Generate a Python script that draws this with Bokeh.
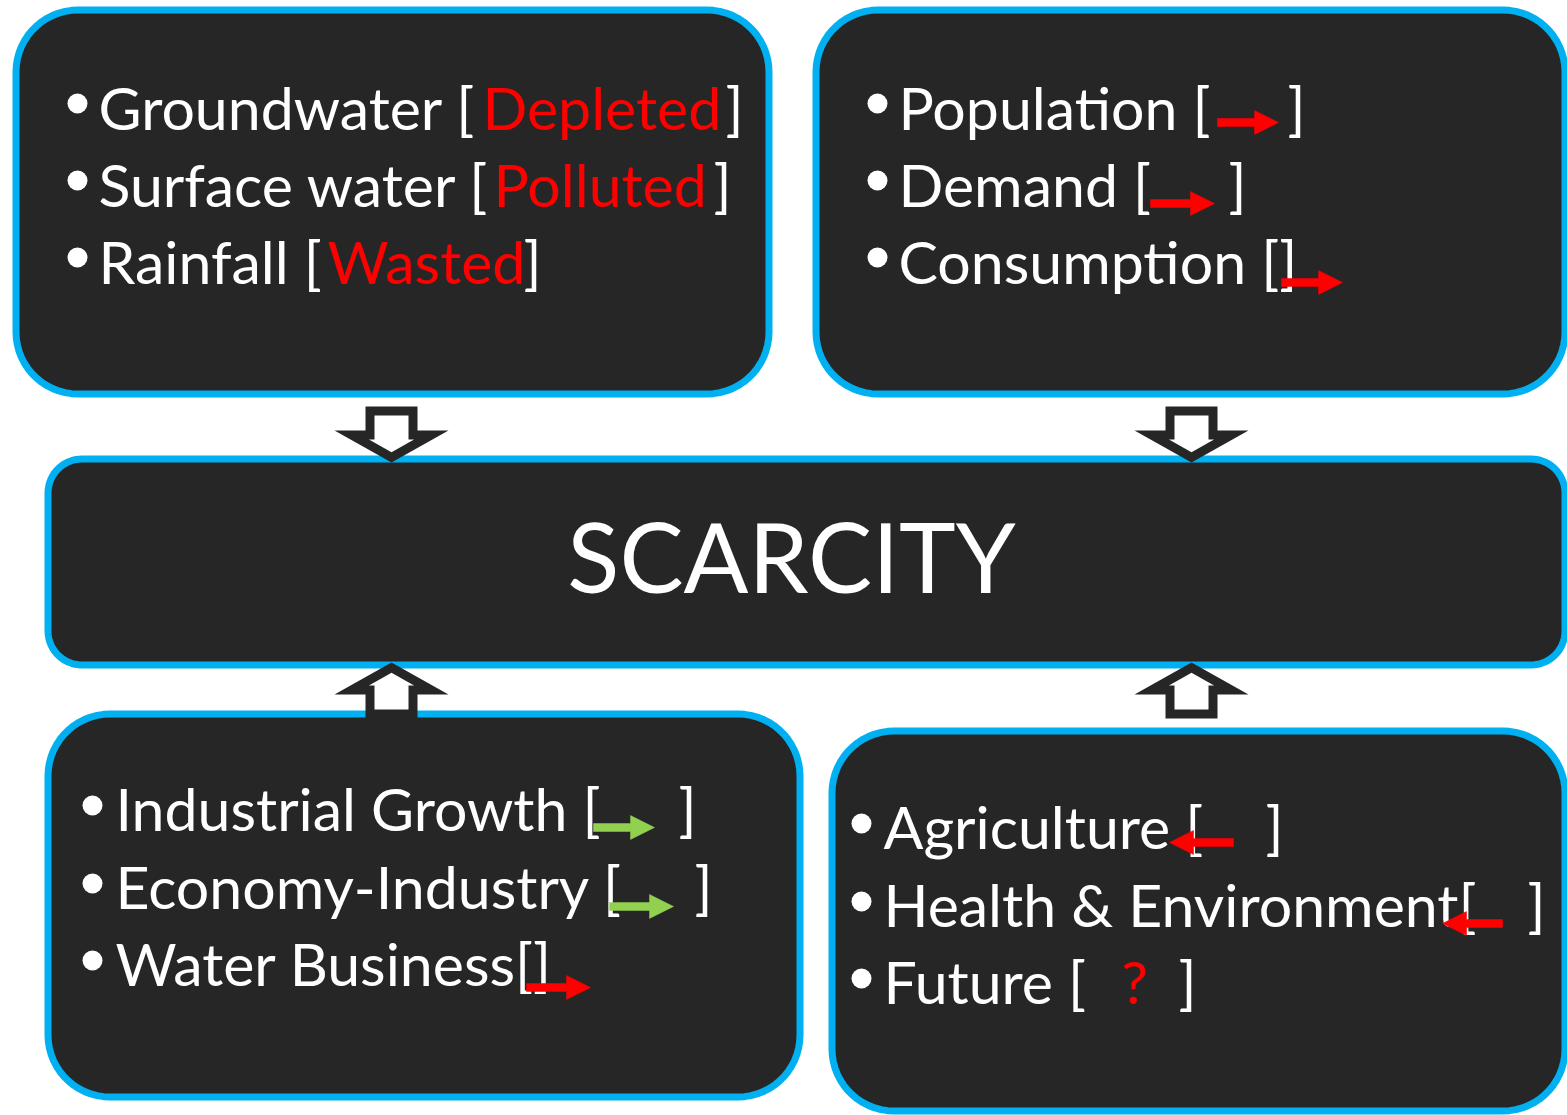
import numpy as np
from bokeh.plotting import figure
from bokeh.models import Range1d
from bokeh.embed import file_html
from bokeh.resources import INLINE
from bokeh.core.properties import value

# ---------------- content ----------------
center_label = "SCARCITY"

supply_items = ["Groundwater [", "Surface water [", "Rainfall ["]
supply_status = ["Depleted", "Polluted", "Wasted"]

demand_items = ["Population [", "Demand [", "Consumption []"]
demand_trend = ["up", "up", "up"]

industry_items = ["Industrial Growth [", "Economy-Industry [", "Water Business[]"]
industry_trend = ["up-good", "up-good", "up"]

impact_items = ["Agriculture [", "Health & Environment[", "Future ["]
impact_trend = ["down", "down", "unknown"]

# ---------------- styles ----------------
DARK = "#262626"
BLUE = "#00B0F0"
RED = "#FF0000"
GREEN = "#92D050"
WHITE = "#FFFFFF"
FONT = "Lato"
ITEM_PX = 59
CENTER_PX = 96
BASE_FIX = 0.33   # shift so that the alphabetic baseline lands where wanted

W, H = 1567, 1115
p = figure(width=W, height=H, output_backend="svg", toolbar_location=None,
           x_range=Range1d(0, W), y_range=Range1d(H, 0),
           x_axis_location=None, y_axis_location=None, min_border=0,
           background_fill_color=WHITE, border_fill_color=WHITE,
           outline_line_color=None)
p.grid.visible = False


def rounded_box(x0, y0, x1, y1, r):
    xs, ys = [], []
    corners = [(x1 - r, y0 + r, -90, 0), (x1 - r, y1 - r, 0, 90),
               (x0 + r, y1 - r, 90, 180), (x0 + r, y0 + r, 180, 270)]
    for cx, cy, a0, a1 in corners:
        t = np.radians(np.linspace(a0, a1, 16))
        xs.extend(cx + r * np.cos(t))
        ys.extend(cy + r * np.sin(t))
    return xs, ys


def box(x0, y0, x1, y1, r):
    bw = 7
    xs, ys = rounded_box(x0 + bw / 2, y0 + bw / 2, x1 - bw / 2, y1 - bw / 2, r)
    p.patch(xs, ys, fill_color=DARK, line_color=BLUE, line_width=bw)


def inset(xs, ys, d):
    pts = np.column_stack([xs, ys]).astype(float)
    n = len(pts)
    area = 0.5 * np.sum(pts[:, 0] * np.roll(pts[:, 1], -1) - np.roll(pts[:, 0], -1) * pts[:, 1])
    sgn = 1 if area > 0 else -1
    lines = []
    for i in range(n):
        a, b = pts[i], pts[(i + 1) % n]
        t = (b - a) / np.linalg.norm(b - a)
        nrm = sgn * np.array([-t[1], t[0]])
        lines.append((a + d * nrm, t))
    out = []
    for i in range(n):
        p1, t1 = lines[i - 1]
        p2, t2 = lines[i]
        A = np.array([t1, -t2]).T
        s = np.linalg.solve(A, p2 - p1)
        out.append(p1 + s[0] * t1)
    out = np.array(out)
    return out[:, 0], out[:, 1]


def block_arrow(cx, y_base, y_tip, direction):
    # hollow white block arrow with thick dark outline (outer extents given)
    s = 1 if direction == "down" else -1
    sw, hw = 26, 57
    neck = y_tip - s * 32
    xs = [cx - sw, cx + sw, cx + sw, cx + hw, cx, cx - hw, cx - sw]
    ys = [y_base, y_base, neck, neck, y_tip, neck, neck]
    p.patch(xs, ys, fill_color=DARK, line_color=None)
    ix, iy = inset(xs, ys, 9)
    p.patch(list(ix), list(iy), fill_color=WHITE, line_color=None)


def small_arrow(x_tail, x_tip, y, color):
    d = 1 if x_tip > x_tail else -1
    xb = x_tip - d * 24
    xs = [x_tail, xb, xb, x_tip, xb, xb, x_tail]
    ys = [y - 4, y - 4, y - 12, y, y + 12, y + 4, y + 4]
    p.patch(xs, ys, fill_color=color, line_color=color, line_width=0.5)


def txt(x, y, s, color=WHITE, px=ITEM_PX, align="left"):
    p.text([x], [y - BASE_FIX * px], text=[s], text_color=color,
           text_font=value(FONT), text_font_size=f"{px}px",
           text_align=align, text_baseline="alphabetic")


def bullets(x, ys):
    p.scatter([x] * len(ys), ys, size=20, marker="circle", fill_color=WHITE,
              line_color=None)


# ---------------- boxes ----------------
box(12, 6, 772, 397, 62)
box(812, 6, 1568, 397, 62)
box(44, 455, 1568, 668, 34)
box(44, 710, 803, 1100, 62)
box(828, 727, 1568, 1114, 62)

# ---------------- block arrows ----------------
block_arrow(391, 406, 462, "down")
block_arrow(1191, 406, 462, "down")
block_arrow(391, 718, 662, "up")
block_arrow(1191, 718, 662, "up")

# ---------------- center ----------------
txt(791, 587, center_label, px=CENTER_PX, align="center")

# ---------------- supply box ----------------
base_tl = [126, 203, 280]
bullets(77, [b - 23 for b in base_tl])
status_x = [482, 493, 327]
close_x = [725, 713, 523]
for item, st, b, sx, cxp in zip(supply_items, supply_status, base_tl, status_x, close_x):
    txt(98, b, item)
    txt(sx, b, st, color=RED)
    txt(cxp, b, "]")

# ---------------- demand box ----------------
base_tr = [126, 203, 280]
bullets(877, [b - 23 for b in base_tr])
demand_close = [1287, 1228, None]
demand_arrow = [(1217, 1278, 122), (1150, 1214, 203), (1281, 1342, 282)]
for item, tr, b, cl, ar in zip(demand_items, demand_trend, base_tr, demand_close, demand_arrow):
    txt(898, b, item)
    if cl is not None:
        txt(cl, b, "]")
    small_arrow(ar[0], ar[1], ar[2], RED)

# ---------------- industry box ----------------
base_bl = [827, 905, 982]
bullets(92, [b - 22 for b in base_bl])
ind_close = [678, 694, None]
ind_arrow = [(593, 654, 827), (609, 673, 906), (526, 590, 987)]
for item, tr, b, cl, ar in zip(industry_items, industry_trend, base_bl, ind_close, ind_arrow):
    txt(115, b, item)
    if cl is not None:
        txt(cl, b, "]")
    small_arrow(ar[0], ar[1], ar[2], GREEN if tr == "up-good" else RED)

# ---------------- impact box ----------------
base_br = [845, 923, 1000]
bullets(861, [b - 22 for b in base_br])
imp_close = [1265, 1527, 1178]
imp_arrow = [(1233, 1169, 842), (1502, 1442, 923), None]
for item, tr, b, cl, ar in zip(impact_items, impact_trend, base_br, imp_close, imp_arrow):
    txt(883, b, item)
    txt(cl, b, "]")
    if tr == "unknown":
        txt(1121, b, "?", color=RED)
    else:
        small_arrow(ar[0], ar[1], ar[2], RED)

open("out.html", "w").write(file_html(p, INLINE))
